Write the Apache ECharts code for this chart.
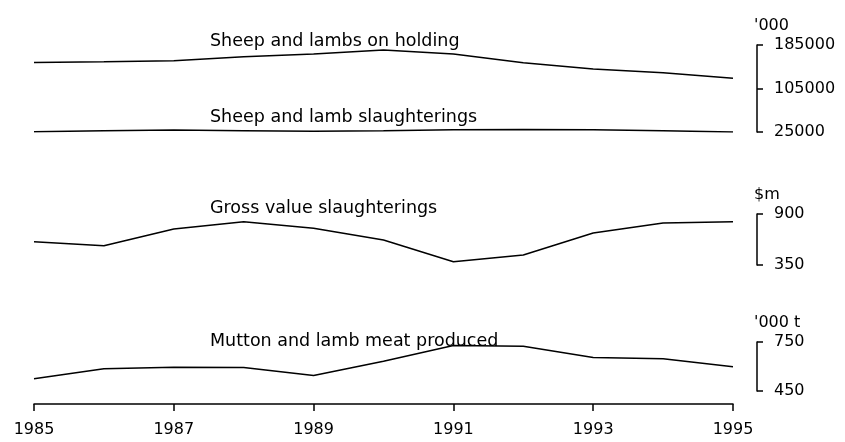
<!DOCTYPE html>
<html>
<head>
<meta charset="utf-8">
<script src="https://cdn.jsdelivr.net/npm/echarts@6/dist/echarts.min.js"></script>
<style>
  html, body { margin: 0; padding: 0; background: #fff; }
  #chart { width: 845px; height: 442px; }
</style>
</head>
<body>
<div id="chart"></div>
<script>
// sheep industry, 1985-1995
var years = [1985, 1986, 1987, 1988, 1989, 1990, 1991, 1992, 1993, 1994, 1995];

// '000 head
var sheepOnHolding = [153000, 154300, 156100, 163500, 168400, 176000, 168400, 152400, 140900, 134100, 123800];
var sheepSlaughter = [25500, 27500, 28500, 27500, 26500, 27500, 29000, 29500, 29000, 27500, 25000];
// $m
var grossValue = [601, 558, 738, 817, 746, 620, 386, 458, 695, 803, 817];
// '000 t
var meatProduced = [525, 586, 596, 594, 545, 632, 728, 724, 655, 647, 598];

var yTicksTop = [25000, 185000];
var yTicksMid = [350, 900];
var yTicksBot = [450, 750];

function pairs(vals) {
    return years.map(function (y, i) { return [y, vals[i]] })
}

var font = 'DejaVu Sans, Liberation Sans, sans-serif'

function xAx(idx, show) {
    return {
        type: 'value',
        gridIndex: idx,
        min: years[0],
        max: years[years.length - 1],
        interval: 2,
        show: show,
        offset: show ? 13 : 0,
        axisLine: { show: true, lineStyle: { color: '#000', width: 1.5 } },
        axisTick: { show: true, length: 7, lineStyle: { color: '#000', width: 1.5 } },
        axisLabel: {
            margin: 18,
            color: '#000',
            fontFamily: font,
            fontSize: 16,
            formatter: function (v) { return String(v) }
        },
        splitLine: { show: false }
    }
}

function yAx(idx, ticks, name) {
    return {
        type: 'value',
        gridIndex: idx,
        position: 'right',
        offset: 24,
        min: ticks[0],
        max: ticks[1],
        interval: (ticks[1] - ticks[0]) / (idx === 0 ? 2 : 1),
        name: name,
        nameLocation: 'end',
        nameGap: 11,
        nameTextStyle: { color: '#000', fontFamily: font, fontSize: 16, align: 'left', padding: [0, 0, 0, -3] },
        axisLine: { show: true, lineStyle: { color: '#000', width: 1.5 } },
        axisTick: { show: true, length: 6, lineStyle: { color: '#000', width: 1.5 } },
        axisLabel: {
            margin: 17,
            color: '#000',
            fontFamily: font,
            fontSize: 16,
            formatter: function (v) { return String(v) }
        },
        splitLine: { show: false }
    }
}

function line(name, vals, idx) {
    return {
        name: name,
        type: 'line',
        xAxisIndex: idx,
        yAxisIndex: idx,
        data: pairs(vals),
        symbol: 'none',
        smooth: false,
        silent: true,
        lineStyle: { color: '#000', width: 1.5 }
    }
}

function label(text, top) {
    return {
        text: text,
        left: 210,
        top: top,
        padding: 0,
        textStyle: { color: '#000', fontFamily: font, fontSize: 17.5, fontWeight: 'normal' }
    }
}

var option = {
    animation: false,
    backgroundColor: '#fff',
    title: [
        label('Sheep and lambs on holding', 32),
        label('Sheep and lamb slaughterings', 108),
        label('Gross value slaughterings', 199),
        label('Mutton and lamb meat produced', 332)
    ],
    grid: [
        { left: 34, right: 112, top: 45, height: 87 },
        { left: 34, right: 112, top: 214, height: 51 },
        { left: 34, right: 112, top: 342, height: 49 }
    ],
    xAxis: [xAx(0, false), xAx(1, false), xAx(2, true)],
    yAxis: [
        yAx(0, yTicksTop, "'000"),
        yAx(1, yTicksMid, '$m'),
        yAx(2, yTicksBot, "'000 t")
    ],
    series: [
        line('Sheep and lambs on holding', sheepOnHolding, 0),
        line('Sheep and lamb slaughterings', sheepSlaughter, 0),
        line('Gross value slaughterings', grossValue, 1),
        line('Mutton and lamb meat produced', meatProduced, 2)
    ]
}

var myChart = echarts.init(document.getElementById('chart'))
myChart.setOption(option)
</script>
</body>
</html>
